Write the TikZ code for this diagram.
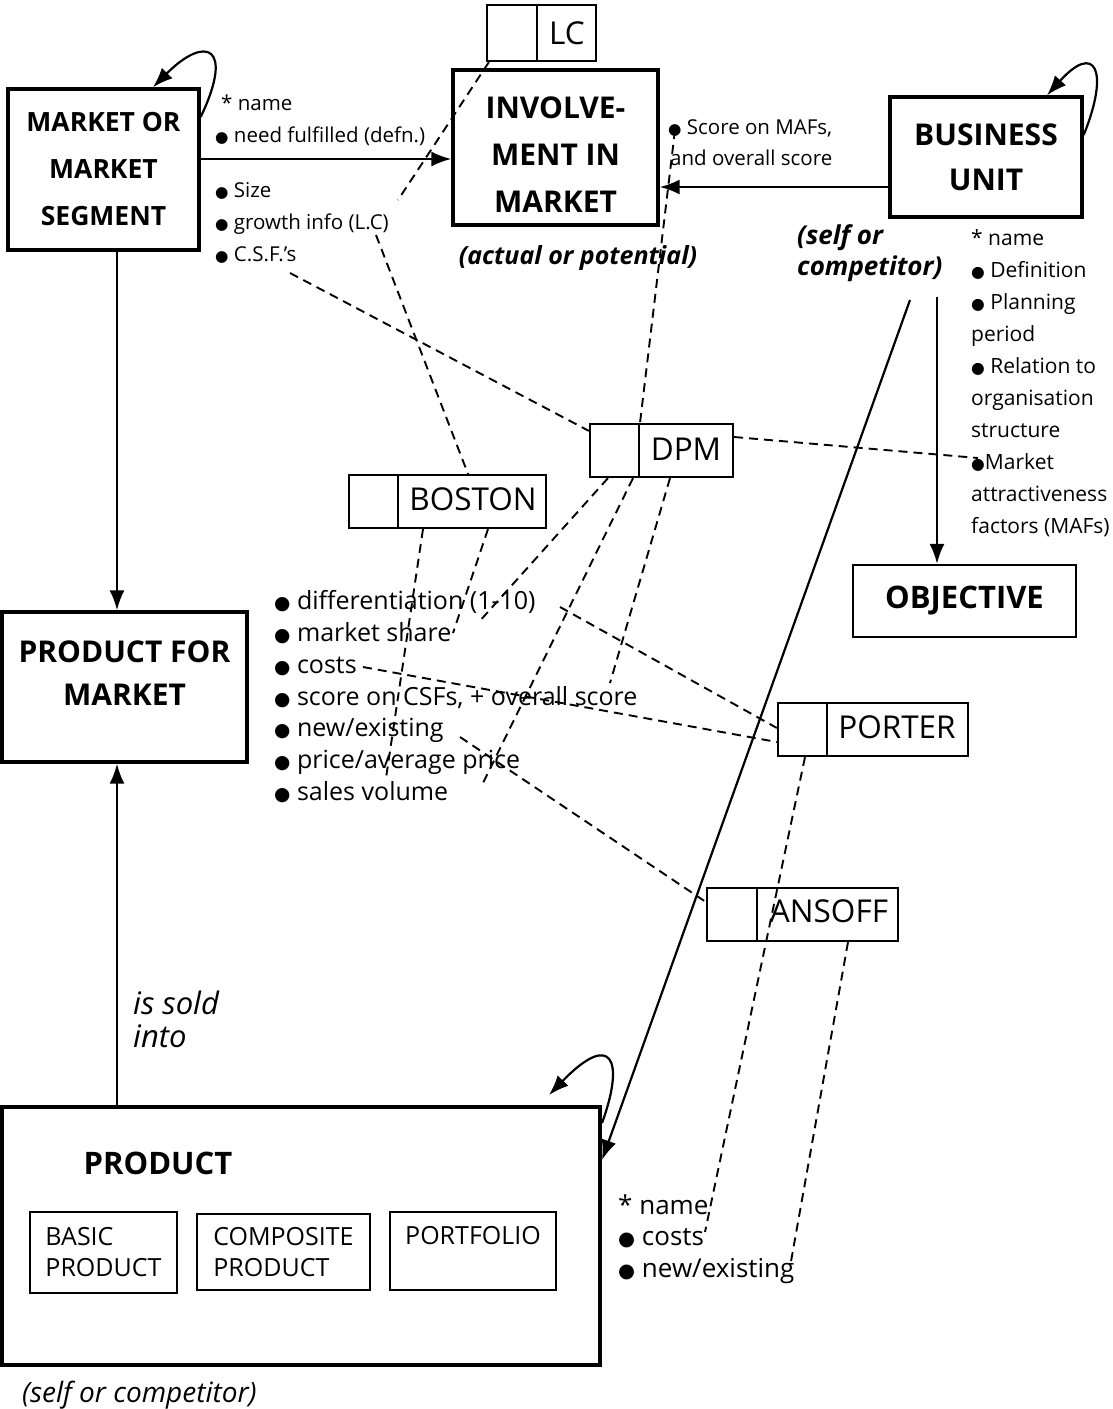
\documentclass[tikz,border=0pt]{standalone}
\usepackage{fontspec}
\setmainfont{Open Sans}
\newfontfamily\symfont{DejaVu Sans}
\usetikzlibrary{arrows.meta,calc}
\newcommand\bul{{\symfont\scalebox{0.75}{●}}}
\newcommand\fs[1]{\fontsize{#1}{#1}\selectfont}

\begin{document}
\begin{tikzpicture}[x=1pt,y=-1pt,
  mainbox/.style={draw, line width=3.4pt, inner sep=0pt},
  toolbox/.style={draw, line width=2.2pt, inner sep=0pt},
  subbox/.style={draw, line width=2pt, inner sep=0pt, font=\fontsize{25}{31}\selectfont, align=left},
  boxlbl/.style={align=center, inner sep=0pt},
  toollbl/.style={font=\fs{31.5}, inner sep=0pt},
  attr/.style={anchor=mid west, inner sep=0pt, yshift=-5pt, font=\fs{20.5}},
  buattr/.style={anchor=mid west, inner sep=0pt, yshift=-5pt, font=\fs{21}},
  list/.style={anchor=mid west, inner sep=0pt, yshift=-5pt, font=\fs{25}},
  note/.style={anchor=mid west, inner sep=0pt, yshift=-5pt, font=\fs{28}\itshape},
  arr/.style={line width=2.2pt, -{Latex[length=20pt,width=15pt]}},
  dsh/.style={line width=1.9pt, dash pattern=on 9pt off 6pt},
  divider/.style={line width=2.2pt}]
\useasboundingbox (0,0) rectangle (1113,1409);

% ---- main entity boxes
\node[mainbox, minimum width=191, minimum height=161, boxlbl, font=\fontsize{26.5}{47}\selectfont\bfseries] (market) at (103.5,169.5) {MARKET OR\\MARKET\\SEGMENT};
\node[mainbox, minimum width=205, minimum height=155,
      label={[boxlbl, font=\fontsize{30}{47}\selectfont\bfseries, yshift=-7pt]center:INVOLVE-\\MENT IN\\MARKET}] (inv) at (555.5,147.5) {};
\node[mainbox, minimum width=192, minimum height=120, font=\fontsize{30}{45}\selectfont\bfseries, align=center] (bu) at (986,157) {BUSINESS\\UNIT};
\node[toolbox, line width=2.4pt, minimum width=223, minimum height=72, font=\fs{31}\bfseries] (obj) at (964.5,601) {OBJECTIVE};
\node[mainbox, minimum width=245, minimum height=150,
      label={[boxlbl, font=\fontsize{30}{43}\selectfont\bfseries, yshift=14pt]center:PRODUCT FOR\\MARKET}] (pfm) at (124.5,687) {};
\node[mainbox, line width=4pt, minimum width=598, minimum height=258] (prod) at (301,1236) {};
\node[font=\fs{31}\bfseries, inner sep=0pt] (prodlbl) at (158,1163) {PRODUCT};
\node[subbox, minimum width=147, minimum height=81] (basic) at (103.5,1252.5) {BASIC\\PRODUCT};
\node[subbox, minimum width=173, minimum height=76] (comp) at (283.5,1252) {COMPOSITE\\PRODUCT};
\node[subbox, minimum width=166, minimum height=78] (portf) at (473,1251) {PORTFOLIO\\\mbox{}};

% ---- analysis tool boxes (empty cell + name cell)
\node[toolbox, minimum width=109, minimum height=56] (lc) at (541.5,33) {};
\draw[divider] ([xshift=51pt]lc.north west) -- ([xshift=51pt]lc.south west);
\node[toollbl] (lcname) at (567,33) {LC};
\node[toolbox, minimum width=143, minimum height=53] (dpm) at (661.5,450.5) {};
\draw[divider] ([xshift=50pt]dpm.north west) -- ([xshift=50pt]dpm.south west);
\node[toollbl] (dpmname) at (686,449) {DPM};
\node[toolbox, minimum width=197, minimum height=53] (boston) at (447.5,501.5) {};
\draw[divider] ([xshift=50pt]boston.north west) -- ([xshift=50pt]boston.south west);
\node[toollbl] (bostonname) at (473,499) {BOSTON};
\node[toolbox, minimum width=190, minimum height=53] (porter) at (873,729.5) {};
\draw[divider] ([xshift=50pt]porter.north west) -- ([xshift=50pt]porter.south west);
\node[toollbl] (portername) at (897,727) {PORTER};
\node[toolbox, minimum width=191, minimum height=53] (ansoff) at (802.5,914.5) {};
\draw[divider] ([xshift=51pt]ansoff.north west) -- ([xshift=51pt]ansoff.south west);
\node[toollbl] (ansoffname) at (829,911) {ANSOFF};

% ---- attribute lists
\node[attr] (ma1) at (221,103) {* name};
\node[attr] (ma2) at (215,135) {\bul\ need fulfilled (defn.)};
\node[attr] (ma3) at (215,190) {\bul\ Size};
\node[attr] (ma4) at (215,222) {\bul\ growth info (L.C)};
\node[attr] (ma5) at (215,254) {\bul\ C.S.F.'s};

\node[attr] (ia1) at (668,127) {\bul\ Score on MAFs,};
\node[attr] (ia2) at (670,158) {and overall score};

\foreach \t [count=\i] in {{* name},{\bul\ Definition},{\bul\ Planning},{period},{\bul\ Relation to},{organisation},{structure},{\bul Market},{attractiveness},{factors (MAFs)}}
  \node[buattr] (ba\i) at (971,{238+32*(\i-1)}) {\t};

\foreach \t [count=\i] in {{differentiation (1-10)},{market share},{costs},{score on CSFs, + overall score},{new/existing},{price/average price},{sales volume}}
  \node[list] (pl\i) at (274,{602+31.8*(\i-1)}) {\bul\ \t};

\node[list, font=\fs{26}] (pa1) at (618,1207) {* name};
\node[list, font=\fs{26}] (pa2) at (618,1238) {\bul\ costs};
\node[list, font=\fs{26}] (pa3) at (618,1270) {\bul\ new/existing};

% ---- annotations
\node[note, anchor=mid, font=\fs{25}\bfseries\itshape] (potential) at (578,257) {(actual or potential)};
\node[note, font=\fs{26}\bfseries\itshape] (bus1) at (797,237) {(self or};
\node[note, font=\fs{26}\bfseries\itshape] (bus2) at (797,268) {competitor)};
\node[note, font=\fs{31}\itshape] (sold1) at (133,1007) {is sold};
\node[note, font=\fs{31}\itshape] (sold2) at (133,1040) {into};
\node[note] (prods) at (22,1395) {(self or competitor)};

% ---- relationships
\coordinate (m2i) at (0,159);
\draw[arr] (market.east |- m2i) -- (inv.west |- m2i);
\coordinate (b2i) at (0,187);
\draw[arr] (bu.west |- b2i) -- (inv.east |- b2i);
\coordinate (xl) at (117,0);
\draw[arr] (market.south -| xl) -- (pfm.north -| xl);
\draw[arr] (prod.north -| xl) -- (pfm.south -| xl);
\coordinate (buObj) at (937,297);
\draw[arr] (buObj) -- (obj.north -| buObj);
\coordinate (buProd) at (910,300);
\coordinate (y1160) at (0,1160);
\draw[arr] (buProd) -- (prod.east |- y1160);

% recursive relationships
\draw[arr] ([yshift=52.5pt]market.east) .. controls (235,45) and (205,35) .. ([xshift=49.5pt]market.north);
\draw[arr] ([yshift=22pt]bu.east) .. controls (1110,70) and (1095,42) .. ([xshift=61pt]bu.north);
\coordinate (prodLoopEnd) at (549,1095);
\draw[arr] ([yshift=-18pt]prod.north east) .. controls (625,1060) and (612,1030) .. (prodLoopEnd);

% ---- attribute usage by analysis tools
\coordinate (lcTip) at (398,200);
\coordinate (lcFrom) at (376,235);
\coordinate (csf) at (290,273);
\coordinate (maf) at (675,130);
\coordinate (mafList) at (978,458);
\coordinate (shareA) at (478,623);
\coordinate (salesA) at (482,785);
\coordinate (scoreA) at (610,683);
\coordinate (priceB) at (386,778);
\coordinate (shareB) at (453,633);
\coordinate (diffP) at (560,607);
\coordinate (costP) at (363,667);
\coordinate (newA) at (460,737);
\coordinate (costsQ) at (705,1232);
\coordinate (newQ) at (790,1267);

\draw[dsh] ([xshift=3pt]lc.south west) -- (lcTip);
\draw[dsh] (lcFrom) -- ([xshift=20.5pt]boston.north);
\draw[dsh] (csf) -- ([yshift=-8pt]dpm.north west);
\draw[dsh] (maf) -- ([xshift=-21.5pt]dpm.north);
\draw[dsh] ([yshift=13.5pt]dpm.east) -- (mafList);
\draw[dsh] ([xshift=-53.5pt]dpm.south) -- (shareA);
\draw[dsh] ([xshift=-28.5pt]dpm.south) -- (salesA);
\draw[dsh] ([xshift=8.5pt]dpm.south) -- (scoreA);
\draw[dsh] ([xshift=-24.5pt]boston.south) -- (priceB);
\draw[dsh] ([xshift=40.5pt]boston.south) -- (shareB);
\draw[dsh] (diffP) -- ([yshift=1.5pt]porter.west);
\draw[dsh] (costP) -- ([yshift=-12.5pt]porter.west);
\draw[dsh] (newA) -- ([yshift=12.5pt]ansoff.west);
\draw[dsh] ([xshift=-68pt]porter.south) -- (costsQ);
\draw[dsh] ([xshift=45.5pt]ansoff.south) -- (newQ);
\end{tikzpicture}
\end{document}
